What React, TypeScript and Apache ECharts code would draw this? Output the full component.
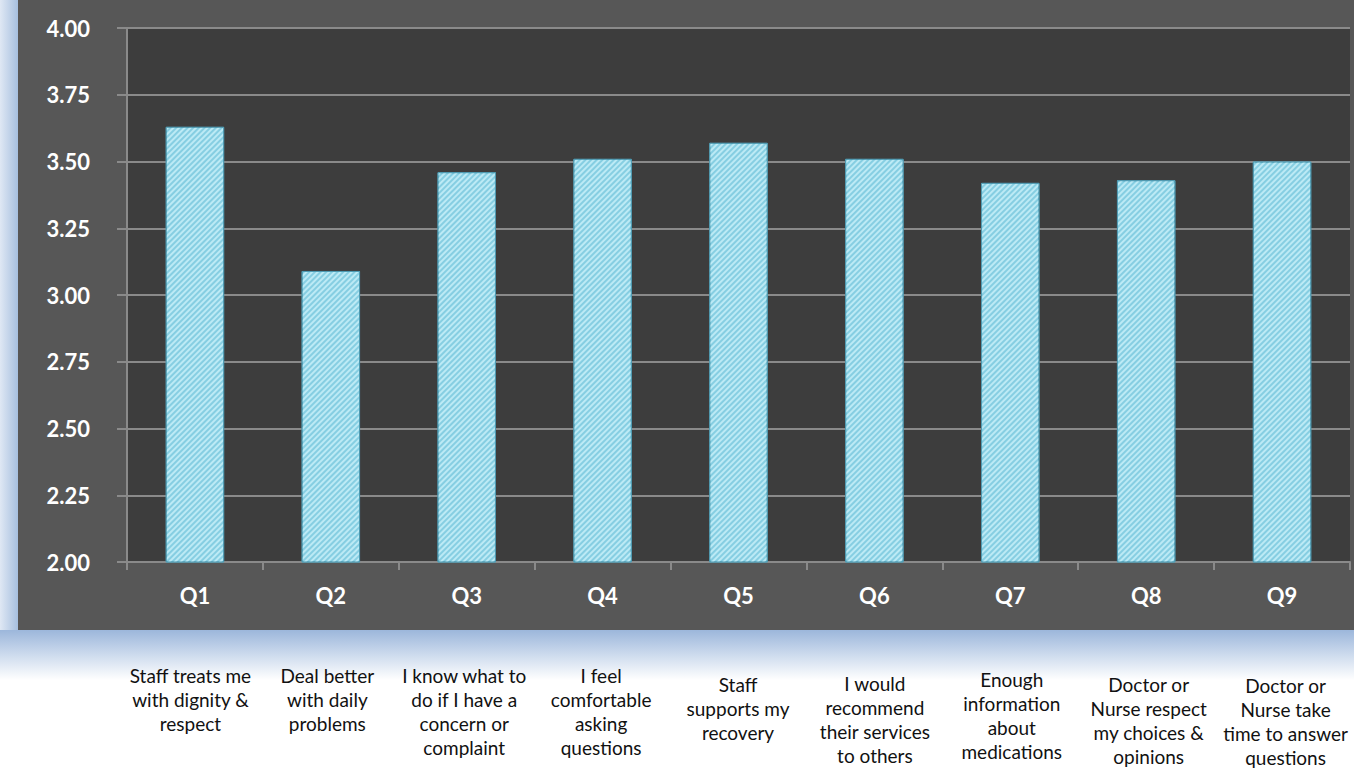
import React, { useEffect, useRef } from "react";
import * as echarts from "echarts";

const categories = ["Q1", "Q2", "Q3", "Q4", "Q5", "Q6", "Q7", "Q8", "Q9"];
const scores = [3.63, 3.09, 3.46, 3.51, 3.57, 3.51, 3.42, 3.43, 3.5];
const captions = [
  "Staff treats me\nwith dignity &\nrespect",
  "Deal better\nwith daily\nproblems",
  "I know what to\ndo if I have a\nconcern or\ncomplaint",
  "I feel\ncomfortable\nasking\nquestions",
  "Staff\nsupports my\nrecovery",
  "I would\nrecommend\ntheir services\nto others",
  "Enough\ninformation\nabout\nmedications",
  "Doctor or\nNurse respect\nmy choices &\nopinions",
  "Doctor or\nNurse take\ntime to answer\nquestions",
];
const yMin = 2;
const yMax = 4;
const yStep = 0.25;

// layout only: extra top offset of each caption block
const captionShift = [0, 0, 0, 0, 9, 8, 4, 9, 10];

const FONT = "Lato, 'Open Sans', sans-serif";

export default function App() {
  const ref = useRef<HTMLDivElement>(null);
  useEffect(() => {
    if (!ref.current) return;
    const chart = echarts.init(ref.current, null, { renderer: "svg" });
    const gridColor = "#8a8a8a";
    chart.setOption({
      animation: false,
      backgroundColor: "#ffffff",
      graphic: [
        {
          type: "rect",
          z: -10,
          shape: { x: 0, y: 0, width: 1354, height: 680 },
          style: {
            fill: new echarts.graphic.LinearGradient(0, 0, 0, 1, [
              { offset: 0, color: "#a9c1e0" },
              { offset: 0.925, color: "#9ab5da" },
              { offset: 0.96, color: "#c9d8ec" },
              { offset: 1, color: "#ffffff" },
            ]),
          },
          silent: true,
        },
        {
          type: "rect",
          z: -10,
          shape: { x: 0, y: 0, width: 18, height: 630 },
          style: {
            fill: new echarts.graphic.LinearGradient(0, 0, 1, 0, [
              { offset: 0, color: "#dfe8f4" },
              { offset: 1, color: "#a6bfdf" },
            ]),
          },
          silent: true,
        },
        {
          type: "rect",
          z: -9,
          shape: { x: 18, y: 0, width: 1340, height: 630 },
          style: { fill: "#575757" },
          silent: true,
        },
      ],
      grid: [
        {
          left: 127,
          top: 28,
          right: 4,
          bottom: 206,
          show: true,
          backgroundColor: "#3d3d3d",
          borderWidth: 0,
        },
        { left: 122, width: 1238, top: 560, height: 2, show: false },
      ],
      xAxis: [
        {
          type: "category",
          gridIndex: 0,
          data: categories,
          axisLine: { show: true, lineStyle: { color: gridColor, width: 2 } },
          axisTick: { show: true, length: 8, lineStyle: { color: gridColor, width: 2 } },
          axisLabel: {
            color: "#ffffff",
            fontFamily: FONT,
            fontWeight: "bold",
            fontSize: 22,
            margin: 22,
          },
        },
        {
          type: "category",
          gridIndex: 1,
          data: captions.map((c, i) => ({
            value: c,
            textStyle: { padding: [captionShift[i], 0, 0, 0] },
          })),
          axisLine: { show: false },
          axisTick: { show: false },
          axisLabel: {
            color: "#111111",
            fontFamily: FONT,
            fontSize: 19,
            lineHeight: 24,
            margin: 103,
            interval: 0,
            align: "center",
          },
        },
      ],
      yAxis: [
        {
          type: "value",
          gridIndex: 0,
          min: yMin,
          max: yMax,
          interval: yStep,
          axisLine: { show: true, lineStyle: { color: gridColor, width: 2 } },
          axisTick: { show: true, length: 10, lineStyle: { color: gridColor, width: 2 } },
          splitLine: { show: true, lineStyle: { color: gridColor, width: 2 } },
          axisLabel: {
            color: "#ffffff",
            fontFamily: FONT,
            fontWeight: "bold",
            fontSize: 22,
            margin: 37,
            formatter: (v: number) => v.toFixed(2),
          },
        },
        { type: "value", gridIndex: 1, show: false },
      ],
      series: [
        {
          type: "bar",
          xAxisIndex: 0,
          yAxisIndex: 0,
          data: scores,
          barWidth: "43%",
          itemStyle: {
            color: "#86cee2",
            borderColor: "#4f9bb2",
            borderWidth: 1,
            decal: {
              symbol: "rect",
              symbolSize: 1,
              color: "rgba(205,242,250,0.75)",
              dashArrayX: [1, 0],
              dashArrayY: [2, 2],
              rotation: -Math.PI / 4,
            },
          },
        },
      ],
    });
    return () => chart.dispose();
  }, []);
  return (
    <div
      ref={ref}
      style={{ position: "fixed", left: 0, top: 0, width: 1354, height: 768, background: "#fff" }}
    />
  );
}
